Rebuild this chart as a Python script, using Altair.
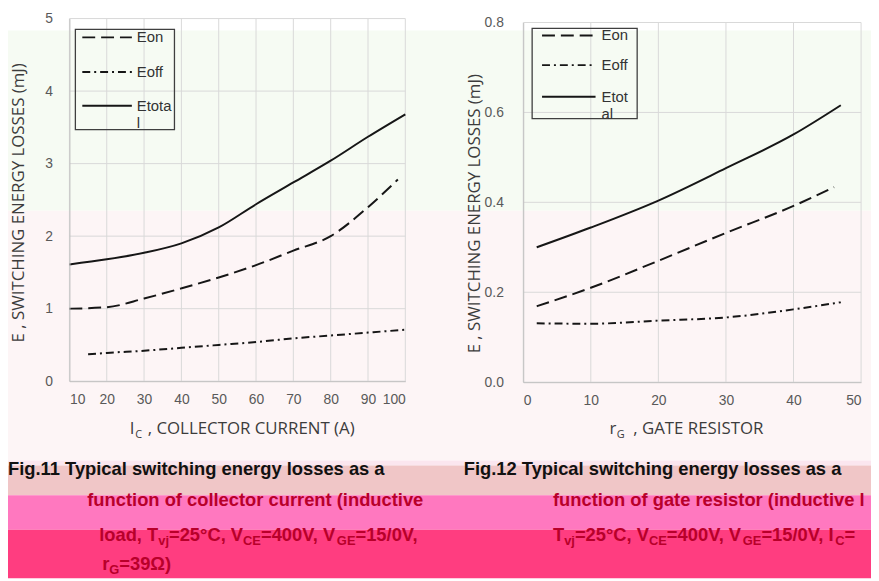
import altair as alt
import pandas as pd

# ---------------- data ----------------
ic_x_total = [10, 20, 30, 40, 50, 60, 70, 80, 90, 100]
ic_etotal = [1.61, 1.68, 1.77, 1.90, 2.12, 2.44, 2.74, 3.04, 3.37, 3.68]
ic_x_on = [10, 20, 30, 40, 50, 60, 70, 80, 90, 98]
ic_eon = [1.00, 1.02, 1.14, 1.28, 1.43, 1.60, 1.80, 2.00, 2.40, 2.78]
ic_x_off = [15, 20, 30, 40, 50, 60, 70, 80, 90, 100]
ic_eoff = [0.37, 0.39, 0.42, 0.46, 0.50, 0.54, 0.59, 0.63, 0.67, 0.71]

rg_x_total = [2, 10, 20, 30, 40, 47]
rg_etotal = [0.300, 0.344, 0.404, 0.476, 0.551, 0.616]
rg_x_on = [2, 10, 20, 30, 40, 46]
rg_eon = [0.169, 0.210, 0.270, 0.332, 0.392, 0.434]
rg_x_off = [2, 10, 20, 30, 40, 47]
rg_eoff = [0.131, 0.130, 0.137, 0.144, 0.162, 0.178]

ic_xticks = [10, 20, 30, 40, 50, 60, 70, 80, 90, 100]
ic_yticks = [0, 1, 2, 3, 4, 5]
rg_xticks = [0, 10, 20, 30, 40, 50]
rg_yticks = [0.0, 0.2, 0.4, 0.6, 0.8]

legend_left = ["Eon", "Eoff", "Etota", "l"]
legend_right = ["Eon", "Eoff", "Etot", "al"]

y_title = "E , SWITCHING ENERGY LOSSES (mJ)"
cap_left_1 = "Fig.11 Typical switching energy losses as a"
cap_left_2 = "function of collector current (inductive"
cap_left_3 = [("load, T", 0), ("vj", 1), ("=25°C, V", 0), ("CE", 1), ("=400V, V", 0), ("GE", 1), ("=15/0V,", 0)]
cap_left_4 = [("r", 0), ("G", 1), ("=39Ω)", 0)]
cap_right_1 = "Fig.12 Typical switching energy losses as a"
cap_right_2 = "function of gate resistor (inductive load,"
cap_right_3 = [("T", 0), ("vj", 1), ("=25°C, V", 0), ("CE", 1), ("=400V, V", 0), ("GE", 1),
               ("=15/0V, I", 0), ("C", 1), ("= 40A", 0)]

# ---------------- styling ----------------
W, H = 871, 573
INK = "#161616"
GRID = "#d9d9d9"
LAB = "#595959"
TITLE = "#3c3c3c"
RED = "#b8002a"
DASH_ON = [13, 6]
DASH_OFF = [8, 4, 2, 4]

one = pd.DataFrame({"k": [0]})


def txt(s, x, y, size, color, font="Liberation Sans", weight="normal", angle=None,
        align="left", baseline="alphabetic", limit=None):
    kw = dict(text=s, font=font, fontSize=size, color=color, fontWeight=weight,
              align=align, baseline=baseline)
    if angle is not None:
        kw["angle"] = angle
    if limit is not None:
        kw["limit"] = limit
        kw["ellipsis"] = " "
    return alt.Chart(one).mark_text(**kw).encode(x=alt.value(x), y=alt.value(y))


# Arial/Liberation Sans Bold advance widths (per 1000 em) for laying out subscripts
AB = {" ": 278, "(": 333, ")": 333, ",": 278, ".": 278, "/": 278, "=": 584, "°": 400,
      "Ω": 768, "A": 722, "C": 722, "E": 667, "G": 778, "I": 278, "T": 611, "V": 667,
      "a": 556, "d": 611, "j": 278, "l": 278, "o": 611, "r": 389, "v": 556}


def width(s, size):
    return sum(AB.get(c, 556) for c in s) * size / 1000.0


def rich(parts, x0, y0, color, size=18.5, sub=13, maxx=None):
    out = []
    x = x0
    for s, is_sub in parts:
        fs = sub if is_sub else size
        y = y0 + (4 if is_sub else 0)
        w = width(s, fs)
        lim = None
        if maxx is not None:
            if x >= maxx - 2:
                break
            if x + w > maxx:
                lim = maxx - x
        out.append(txt(s, x, y, fs, color, weight="bold", limit=lim))
        x += w
    return out


def band(y0, y1, color, x0=0, x1=W):
    return alt.Chart(one).mark_rect(color=color).encode(
        x=alt.value(x0), x2=alt.value(x1), y=alt.value(y0), y2=alt.value(y1))


def axis(orient, offset, values, pad, fmt):
    return alt.Axis(orient=orient, offset=offset, values=values, grid=False, ticks=False,
                    domainColor="#bfbfbf", domainWidth=1, labelPadding=pad,
                    labelFont="Liberation Sans", labelFontSize=14, labelColor=LAB,
                    format=fmt, title=None, zindex=1, labelOverlap=False)


def panel(xs, ys, ax, ay, xt, yt, series):
    xmin, xmax = xs.domain
    ymin, ymax = ys.domain
    vgrid = alt.Chart(pd.DataFrame({"g": xt})).mark_rule(color=GRID, strokeWidth=1).encode(
        x=alt.X("g:Q", scale=xs, axis=ax),
        y=alt.YDatum(ymin, scale=ys, axis=ay), y2=alt.Y2Datum(ymax))
    hgrid = alt.Chart(pd.DataFrame({"g": yt})).mark_rule(color=GRID, strokeWidth=1).encode(
        y=alt.Y("g:Q", scale=ys, axis=ay),
        x=alt.XDatum(xmin, scale=xs, axis=ax), x2=alt.X2Datum(xmax))
    lines = []
    for xv, yv, dash in series:
        df = pd.DataFrame({"x": xv, "y": yv})
        mk = dict(color=INK, strokeWidth=2, interpolate="monotone")
        if dash:
            mk["strokeDash"] = dash
        lines.append(alt.Chart(df).mark_line(**mk).encode(
            x=alt.X("x:Q", scale=xs, axis=ax), y=alt.Y("y:Q", scale=ys, axis=ay)))
    return alt.layer(vgrid, hgrid, *lines)


def legend(x0, x1, y0, y1, lx0, lx1, tx, rows, labels):
    box = alt.Chart(one).mark_rect(fillOpacity=0, stroke="#3f3f3f", strokeWidth=1.3).encode(
        x=alt.value(x0), x2=alt.value(x1), y=alt.value(y0), y2=alt.value(y1))
    out = [box]
    for yy, dash in zip(rows, [DASH_ON, DASH_OFF, None]):
        mk = dict(color=INK, strokeWidth=2)
        if dash:
            mk["strokeDash"] = dash
        out.append(alt.Chart(one).mark_rule(**mk).encode(
            x=alt.value(lx0), x2=alt.value(lx1), y=alt.value(yy)))
    ys_lab = [rows[0], rows[1], rows[2], rows[2] + 17]
    for lab, yy in zip(labels, ys_lab):
        out.append(txt(lab, tx, yy, 15, "#333333", baseline="middle"))
    return out


# ---------------- left panel: vs collector current ----------------
xs_l = alt.Scale(domain=[10, 100], range=[62, 401], nice=False, zero=False)
ys_l = alt.Scale(domain=[0, 5], range=[374, 8], nice=False, zero=False)
ax_l = axis("bottom", 374 - H, ic_xticks, 12, "d")
ay_l = axis("left", -62, ic_yticks, 17, "d")
left = panel(xs_l, ys_l, ax_l, ay_l, ic_xticks, ic_yticks, [
    (ic_x_on, ic_eon, DASH_ON),
    (ic_x_off, ic_eoff, DASH_OFF),
    (ic_x_total, ic_etotal, None),
])

# ---------------- right panel: vs gate resistor ----------------
xs_r = alt.Scale(domain=[0, 50], range=[520, 861], nice=False, zero=False)
ys_r = alt.Scale(domain=[0, 0.8], range=[375, 12], nice=False, zero=False)
ax_r = axis("bottom", 375 - H, rg_xticks, 12, "d")
ay_r = axis("left", -520, rg_yticks, 20, ".1f")
right = panel(xs_r, ys_r, ax_r, ay_r, rg_xticks, rg_yticks, [
    (rg_x_on, rg_eon, DASH_ON),
    (rg_x_off, rg_eoff, DASH_OFF),
    (rg_x_total, rg_etotal, None),
])

# ---------------- background bands ----------------
bands = [
    band(20, 202, "#f6fbf3"),
    band(202, 454, "#fdf5f6"),
    band(454, 459, "#fbe6ef"),
    band(459, 489, "#f0c6c7"),
    band(489, 524, "#ff78bf"),
    band(524, H, "#ff3d80"),
]

# ---------------- texts ----------------
texts = [
    txt(y_title, 11, 194, 17, TITLE, font="Open Sans", angle=270, align="center", baseline="middle"),
    txt(y_title, 471, 205, 17, TITLE, font="Open Sans", angle=270, align="center", baseline="middle"),
    txt("I", 123, 427, 17, TITLE, font="Open Sans"),
    txt("C", 128.5, 431, 11, TITLE, font="Open Sans"),
    txt(", COLLECTOR CURRENT (A)", 141, 427, 17, TITLE, font="Open Sans"),
    txt("r", 607, 427, 17, TITLE, font="Open Sans"),
    txt("G", 614.5, 431, 11, TITLE, font="Open Sans"),
    txt(", GATE RESISTOR", 631, 427, 17, TITLE, font="Open Sans"),
    txt(cap_left_1, 0, 469, 18.5, "#111111", weight="bold"),
    txt(cap_left_2, 80, 500, 18.5, RED, weight="bold"),
    txt(cap_right_1, 460, 469, 18.5, "#111111", weight="bold"),
    txt(cap_right_2, 550, 500, 18.5, RED, weight="bold", limit=W - 550),
]
texts += rich(cap_left_3, 92, 535, RED)
texts += rich(cap_left_4, 95, 565, RED)
texts += rich(cap_right_3, 550, 535, RED, maxx=W)

legends = legend(68, 168, 19, 120, 75, 125, 130, [27, 62, 96], legend_left)
legends += legend(529, 635, 18, 109, 539, 593, 599, [25, 55, 87], legend_right)

chart = alt.layer(*bands, left, right, *legends, *texts).resolve_scale(
    x="independent", y="independent"
).properties(width=W, height=H, padding=0, background="white").configure_view(stroke=None)

chart.save("out.html", embed_options={"renderer": "svg", "actions": False})
